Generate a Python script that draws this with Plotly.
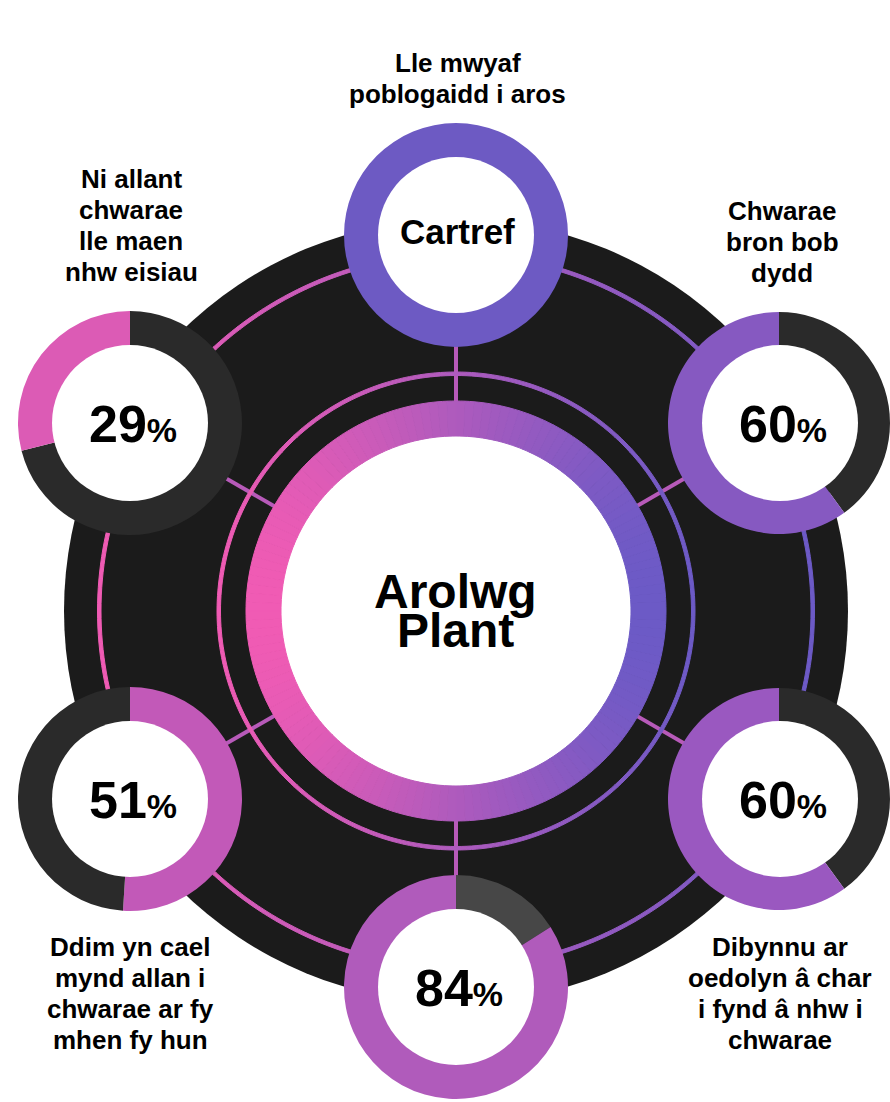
import math
import plotly.graph_objects as go

W, H = 890, 1102

# ---- data -------------------------------------------------------------
centre_title = ["Arolwg", "Plant"]
hub_label = "Cartref"
hub_caption = ["Lle mwyaf", "poblogaidd i aros"]

# order: upper right, lower right, bottom, lower left, upper left
stat_values = [60, 60, 84, 51, 29]
stat_captions = [
    ["Chwarae", "bron bob", "dydd"],
    ["Dibynnu ar", "oedolyn â char", "i fynd â nhw i", "chwarae"],
    [],
    ["Ddim yn cael", "mynd allan i", "chwarae ar fy", "mhen fy hun"],
    ["Ni allant", "chwarae", "lle maen", "nhw eisiau"],
]

# ---- style / layout ---------------------------------------------------
FONT = "Liberation Sans, Arial, Helvetica, sans-serif"
PINK, PURPLE = "#f05bb4", "#6c5ac6"
DARK_BG = "#1b1b1b"
CX, CY = 456, 611
R_DONUT, R_HOLE = 112, 77

hub_pos = (456, 235)
stat_pos = [(780, 423), (780, 799), (456, 987), (130, 799), (130, 423)]
stat_colors = ["#8659c1", "#9a58c0", "#b05bbb", "#c259b8", "#dc5bb5"]
stat_rest = ["#2a2a2a", "#2a2a2a", "#474747", "#2a2a2a", "#2a2a2a"]
stat_fill_side = ["left", "left", "left", "right", "left"]
hub_color = "#6d5ac3"

caption_pos = [(782, 220), (780, 956), None, (130, 956), (131, 188)]
hub_caption_pos = (458, 72)
LINE_STEP = 31


def px(x):
    return x / W


def py(y):
    return 1 - y / H


def mix(c1, c2, t):
    a = [int(c1[i:i + 2], 16) for i in (1, 3, 5)]
    b = [int(c2[i:i + 2], 16) for i in (1, 3, 5)]
    return "#" + "".join("%02x" % round(a[k] + (b[k] - a[k]) * t) for k in range(3))


def pie_at(cx, cy, r, values, colors, hole=0, line_width=0):
    # clockwise from 12 o'clock
    return go.Pie(
        values=values, sort=False, direction="clockwise", hole=hole,
        marker=dict(colors=colors, line=dict(color=colors, width=line_width)),
        domain=dict(x=[max(0, px(cx - r)), min(1, px(cx + r))],
                    y=[max(0, py(cy + r)), min(1, py(cy - r))]),
        textinfo="none", hoverinfo="skip", showlegend=False,
    )


def gradient_ring(r_out, r_in, n=144):
    cols = []
    for k in range(n):
        phi = math.radians((k + 0.5) * 360 / n)
        cols.append(mix(PINK, PURPLE, (1 + math.sin(phi)) / 2))
    return pie_at(CX, CY, r_out, [1] * n, cols, hole=r_in / r_out, line_width=1)


fig = go.Figure()

# thin rings and the big gradient ring
fig.add_trace(gradient_ring(358.5, 355))
fig.add_trace(gradient_ring(239, 235.5))
fig.add_trace(gradient_ring(210, 175))

# donuts
fig.add_trace(pie_at(hub_pos[0], hub_pos[1], R_DONUT, [1], [hub_color], hole=R_HOLE / R_DONUT))
for (x, y), v, c, rest, side in zip(stat_pos, stat_values, stat_colors, stat_rest, stat_fill_side):
    if side == "right":
        vals, cols = [v, 100 - v], [c, rest]
    else:
        vals, cols = [100 - v, v], [rest, c]
    fig.add_trace(pie_at(x, y, R_DONUT, vals, cols, hole=R_HOLE / R_DONUT))

# white centres of the donuts
for x, y in [hub_pos] + stat_pos:
    fig.add_trace(pie_at(x, y, R_HOLE + 1, [1], ["#ffffff"]))

# shapes under the pies: dark disc, spokes, white centre
shapes = [dict(type="circle", layer="below", xref="paper", yref="paper",
               x0=px(CX - 392), x1=px(CX + 392), y0=py(CY + 392), y1=py(CY - 392),
               fillcolor=DARK_BG, line=dict(width=0))]
for x, y in [hub_pos] + stat_pos:
    dx, dy = x - CX, y - CY
    n = (dx * dx + dy * dy) ** 0.5
    ux, uy = dx / n, dy / n
    shapes.append(dict(type="line", layer="below", xref="paper", yref="paper",
                       x0=px(CX + ux * 195), y0=py(CY + uy * 195),
                       x1=px(CX + ux * 290), y1=py(CY + uy * 290),
                       line=dict(color="#b75ab9", width=4)))
shapes.append(dict(type="circle", layer="below", xref="paper", yref="paper",
                   x0=px(CX - 176), x1=px(CX + 176), y0=py(CY + 176), y1=py(CY - 176),
                   fillcolor="#ffffff", line=dict(width=0)))

annotations = []


def label(text, x, y, size):
    annotations.append(dict(text="<b>%s</b>" % text, x=px(x), y=py(y), xref="paper", yref="paper",
                            xanchor="center", yanchor="middle", showarrow=False,
                            font=dict(family=FONT, size=size, color="#000000")))


# centre title
label(centre_title[0], 455, 591, 48)
label(centre_title[1], 455, 630, 48)
label(hub_label, 457, 231, 35)

for (x, y), v in zip(stat_pos, stat_values):
    label("%d<span style='font-size:34px'>%%</span>" % v, x + 3, y + 1, 52)

# captions (one annotation per line to keep the tight leading)
bx, by = hub_caption_pos
for i, line in enumerate(hub_caption):
    label(line, bx, by + i * LINE_STEP - 9, 26)
for pos, lines in zip(caption_pos, stat_captions):
    if not pos:
        continue
    bx, by = pos
    for i, line in enumerate(lines):
        label(line, bx, by + i * LINE_STEP - 9, 26)

fig.update_layout(
    width=W, height=H,
    margin=dict(l=0, r=0, t=0, b=0),
    paper_bgcolor="#ffffff", plot_bgcolor="#ffffff",
    shapes=shapes, annotations=annotations,
    showlegend=False,
)

# let the figure fill the page exactly (no default body margin)
fig.write_html("out.html", config={"displayModeBar": False},
               post_script="document.body.style.margin='0';document.body.style.overflow='hidden';")
